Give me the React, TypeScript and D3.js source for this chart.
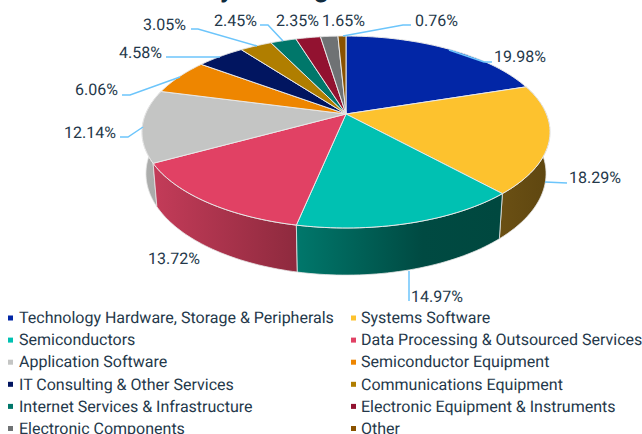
import React from 'react';
import * as d3 from 'd3';

const categories = [
  'Technology Hardware, Storage & Peripherals',
  'Systems Software',
  'Semiconductors',
  'Data Processing & Outsourced Services',
  'Application Software',
  'Semiconductor Equipment',
  'IT Consulting & Other Services',
  'Communications Equipment',
  'Internet Services & Infrastructure',
  'Electronic Equipment & Instruments',
  'Electronic Components',
  'Other',
];
const shares = [19.98, 18.29, 14.97, 13.72, 12.14, 6.06, 4.58, 3.05, 2.45, 2.35, 1.65, 0.76];
const colors = [
  '#0226a6', '#fdc22e', '#00c1b2', '#e14164', '#c4c5c4', '#ee8600',
  '#011560', '#b07e00', '#00776a', '#921230', '#6f7274', '#8a5200',
];
// side wall shading: [offset, colour] stops along x
const sideStops: Record<number, [number, string][]> = {
  1: [[0, '#6b5014'], [1, '#5f4710']],
  2: [[0, '#00776b'], [0.62, '#004a42'], [1, '#00483f']],
  3: [[0, '#c23b58'], [1, '#8e2a3e']],
  4: [[0, '#adaead'], [1, '#a6a7a6']],
};

// label placement: text start x, text centre y, then the leader polyline
const labelLayout: { x: number; y: number; leader: [number, number][] }[] = [
  { x: 494, y: 56, leader: [[492, 62], [484, 62], [449, 50]] },
  { x: 569, y: 177, leader: [[567, 183], [545, 182]] },
  { x: 411, y: 296, leader: [[409, 301], [409, 271]] },
  { x: 148, y: 258, leader: [] },
  { x: 64, y: 132, leader: [[120, 137], [128, 137], [143, 127]] },
  { x: 75, y: 89, leader: [[122, 95], [130, 95], [180, 77]] },
  { x: 119, y: 52, leader: [[166, 57], [220, 57]] },
  { x: 143, y: 24, leader: [[191, 29], [198, 29], [257, 46]] },
  { x: 214, y: 20, leader: [[260, 25], [268, 25], [283, 41]] },
  { x: 276, y: 20, leader: [] },
  { x: 322, y: 20, leader: [] },
  { x: 415, y: 20, leader: [[411, 25], [403, 25], [343, 36]] },
];

const textColor = '#24384a';
const font = 'Roboto, sans-serif';

// perspective projection of the tilted disc
const persp = 0.1875;
const project = (a: number, rx: number, ry: number, cy: number): [number, number] => {
  const w = 1 + persp * Math.cos(a);
  return [346 + (rx * Math.sin(a)) / w, cy - (ry * Math.cos(a)) / w];
};
const topAt = (a: number) => project(a, 200.4, 92.6, 114);
const bottomAt = (a: number) => project(a, 196.5, 98, 154.5);

const arcPoints = (a0: number, a1: number, at: (a: number) => [number, number]) =>
  d3.range(0, 41).map((i) => at(a0 + ((a1 - a0) * i) / 40));

const line = d3.line();

export default function App() {
  const pie = d3.pie<number>().sort(null)(shares);
  const legendX = d3.scalePoint<number>().domain([0, 1]).range([8, 351]);
  const legendY = d3.scaleLinear().domain([0, 5]).range([317.5, 428]);

  return (
    <svg
      width={642}
      height={434}
      style={{ position: 'absolute', left: 0, top: 0, fontFamily: font }}
      textRendering="geometricPrecision"
    >
      <defs>
        {Object.entries(sideStops).map(([i, stops]) => {
          const d = pie[+i];
          const x = arcPoints(d.startAngle, d.endAngle, bottomAt).map((p) => p[0]);
          return (
            <linearGradient
              key={i}
              id={`side-${i}`}
              gradientUnits="userSpaceOnUse"
              x1={d3.min(x)}
              x2={d3.max(x)}
              y1={0}
              y2={0}
            >
              {stops.map(([o, c]) => (
                <stop key={o} offset={o} stopColor={c} />
              ))}
            </linearGradient>
          );
        })}
      </defs>

      {/* descenders of the title, which is cut off by the top of the frame */}
      <text x={220} y={-3} fontSize={26} fontWeight={700} fill="#0f2b3d">y</text>
      <text x={314} y={-3} fontSize={26} fontWeight={700} fill="#0f2b3d">g</text>

      {/* side walls, back to front */}
      {[4, 1, 3, 2].map((i) => {
        const d = pie[i];
        const pts = [
          ...arcPoints(d.startAngle, d.endAngle, topAt),
          ...arcPoints(d.endAngle, d.startAngle, bottomAt),
        ];
        return (
          <path
            key={i}
            d={line(pts) + 'Z'}
            fill={`url(#side-${i})`}
            stroke="#e6e6e6"
            strokeWidth={0.8}
          />
        );
      })}

      {/* top face */}
      {pie.map((d, i) => {
        const pts: [number, number][] = [[346, 114], ...arcPoints(d.startAngle, d.endAngle, topAt)];
        return (
          <path key={i} d={line(pts) + 'Z'} fill={colors[i]} stroke="#e8e8e8" strokeWidth={1} />
        );
      })}

      {/* leaders and labels */}
      {labelLayout.map((l, i) =>
        l.leader.length ? (
          <path key={i} d={line(l.leader)!} fill="none" stroke="#6cc5fb" strokeWidth={1.5} />
        ) : null,
      )}
      {shares.map((s, i) => (
        <text
          key={i}
          x={labelLayout[i].x}
          y={labelLayout[i].y}
          dy="0.36em"
          fontSize={16}
          fill={textColor}
        >
          {s.toFixed(2)}%
        </text>
      ))}

      {/* legend */}
      {categories.map((c, i) => {
        const col = i % 2;
        const row = Math.floor(i / 2);
        const x = legendX(col)!;
        const y = legendY(row);
        return (
          <g key={c}>
            <rect x={x} y={y - 2} width={5} height={5} fill={colors[i]} />
            <text x={x + (col ? 10 : 11)} y={y} dy="0.36em" fontSize={16} fill={textColor}>
              {c}
            </text>
          </g>
        );
      })}
    </svg>
  );
}
